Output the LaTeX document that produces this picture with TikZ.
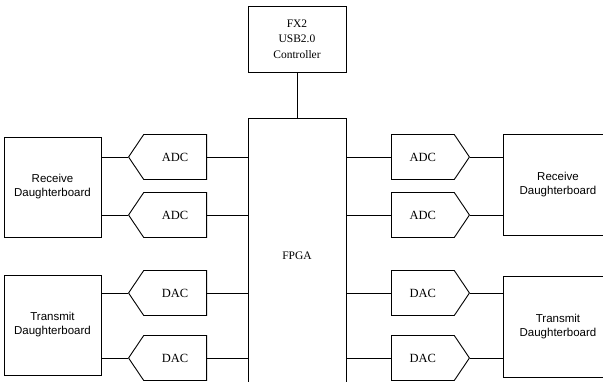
\documentclass[tikz,border=0pt]{standalone}
\usepackage{fontspec}
\setmainfont{Liberation Serif}
\newfontfamily\boardfont{Liberation Sans}
\usetikzlibrary{positioning,shapes.symbols}
\tikzset{
  box/.style   = {draw, line width=0.9pt, align=center, inner sep=0pt,
                  font=\fontsize{11.5}{15.5}\selectfont},
  board/.style = {draw, line width=0.9pt, align=center, inner sep=0pt,
                  minimum width=97pt, minimum height=100pt,
                  font=\boardfont\fontsize{11.5}{14}\selectfont},
  conv/.style  = {draw, line width=0.9pt, shape=signal, inner sep=0pt,
                  minimum width=78pt, minimum height=45pt,
                  signal pointer angle=112, font=\fontsize{12.5}{14}\selectfont},
  wire/.style  = {line width=0.9pt},
}
\begin{document}
\begin{tikzpicture}[x=1pt,y=1pt]
  \useasboundingbox (0,0) rectangle (603,381);
  \clip (0,0) rectangle (603,381);
  % controller and FPGA
  \node[box, minimum width=98pt, minimum height=276pt] (fpga) at (297,125) {FPGA};
  \node[box, minimum width=98pt, minimum height=66pt, above=45pt of fpga] (fx2)
       {FX2\\USB2.0\\Controller};
  % converters, left side
  \node[conv, signal to=west, anchor=east] (adcL1) at (207,224) {ADC};
  \node[conv, signal to=west, anchor=east] (adcL2) at (207,166) {ADC};
  \node[conv, signal to=west, anchor=east] (dacL1) at (207,88) {DAC};
  \node[conv, signal to=west, anchor=east] (dacL2) at (207,23) {DAC};
  % converters, right side
  \node[conv, signal to=east, anchor=west] (adcR1) at (391,224) {ADC};
  \node[conv, signal to=east, anchor=west] (adcR2) at (391,166) {ADC};
  \node[conv, signal to=east, anchor=west] (dacR1) at (391,88) {DAC};
  \node[conv, signal to=east, anchor=west] (dacR2) at (391,23) {DAC};
  % daughterboards
  \node[board] (rxL) at (52.5,194) {Receive\\Daughterboard};
  \node[board] (txL) at (52.5,56) {Transmit\\Daughterboard};
  \node[board, minimum width=110pt, minimum height=101pt] (rxR) at (558,196) {Receive\\Daughterboard};
  \node[board, minimum width=110pt, minimum height=101pt] (txR) at (558,54.5) {Transmit\\Daughterboard};
  % wiring
  \draw[wire] (fx2) -- (fpga);
  \foreach \c/\b in {adcL1/rxL, adcL2/rxL, dacL1/txL, dacL2/txL} {
    \draw[wire] (\c.east) -- (\c.east -| fpga.west);
    \draw[wire] (\c.west) -- (\c.west -| \b.east);
  }
  \foreach \c/\b in {adcR1/rxR, adcR2/rxR, dacR1/txR, dacR2/txR} {
    \draw[wire] (\c.west) -- (\c.west -| fpga.east);
    \draw[wire] (\c.east) -- (\c.east -| \b.west);
  }
\end{tikzpicture}
\end{document}
